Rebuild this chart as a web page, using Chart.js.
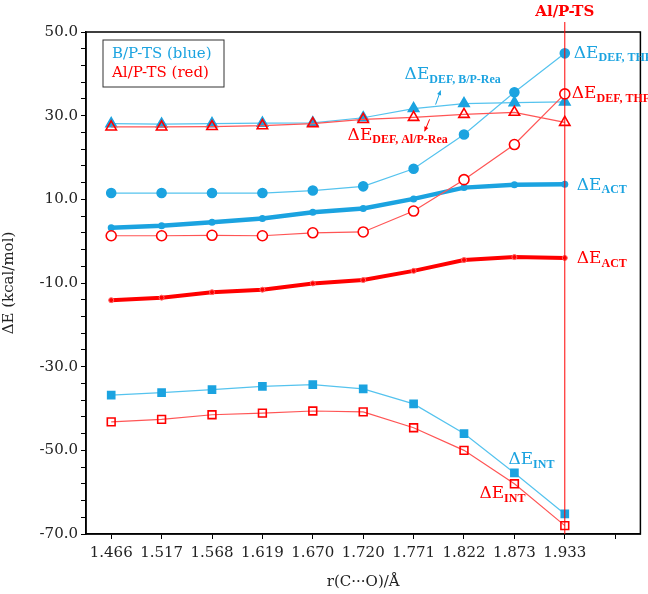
<!DOCTYPE html>
<html>
<head>
<meta charset="utf-8">
<script src="https://cdn.jsdelivr.net/npm/chart.js@4.4.1/dist/chart.umd.min.js"></script>
<style>
  body { margin: 0; background: #fff; }
</style>
</head>
<body>
<canvas id="chart" width="648" height="594"></canvas>
<script>
// r(C...O) distances, last slot is an empty category on the axis
const distances = ["1.466", "1.517", "1.568", "1.619", "1.670", "1.720", "1.771", "1.822", "1.873", "1.933", ""];

// B/P-TS (blue)
const defThfB = [11.5, 11.5, 11.5, 11.5, 12.1, 13.1, 17.3, 25.5, 35.6, 44.9];
const defReaB = [28.1, 28.0, 28.1, 28.2, 28.3, 29.5, 31.7, 32.9, 33.1, 33.3];
const actB    = [3.2, 3.7, 4.5, 5.4, 6.9, 7.8, 10.1, 12.8, 13.5, 13.6];
const intB    = [-36.8, -36.2, -35.5, -34.7, -34.3, -35.3, -38.9, -46.0, -55.4, -65.2];

// Al/P-TS (red)
const defThfAl = [1.3, 1.3, 1.4, 1.3, 2.0, 2.2, 7.2, 14.7, 23.1, 35.2];
const defReaAl = [27.3, 27.3, 27.4, 27.6, 28.1, 29.1, 29.6, 30.3, 30.8, 28.4];
const actAl    = [-14.1, -13.5, -12.2, -11.6, -10.1, -9.3, -7.1, -4.5, -3.8, -4.0];
const intAl    = [-43.2, -42.6, -41.5, -41.1, -40.6, -40.8, -44.6, -50.0, -58.0, -68.0];

const yMin = -70, yMax = 50, yMinor = 4, yMajor = 20;
const tsIndex = 9; // Al/P-TS position

const BLUE = "#1BA3E0";
const BLUE_LINE = "#55C3EE";
const RED = "#FF0000";
const RED_LINE = "#FF5555";
const SERIF = "'DejaVu Serif', serif";
const NARROW = "'Liberation Serif', serif";

function series(data, opts) {
  return Object.assign({
    data: data,
    borderWidth: 1.2,
    pointBorderWidth: 1.6,
    tension: 0,
  }, opts);
}

// ΔE labels with subscripts, anchored to data points
const labels = [
  { i: 9, v: defThfB[9], dx: 9, dy: 0, sub: "DEF, THF", color: BLUE },
  { i: 9, v: defThfAl[9], dx: 7, dy: 0, sub: "DEF, THF", color: RED },
  { i: 9, v: actB[9], dx: 12, dy: 1, sub: "ACT", color: BLUE },
  { i: 9, v: actAl[9], dx: 12, dy: 1, sub: "ACT", color: RED },
  { i: 8, v: intB[8], dx: -6, dy: -13, sub: "INT", color: BLUE },
  { i: 8, v: intAl[8], dx: -35, dy: 10, sub: "INT", color: RED },
  { i: 6, v: defReaB[6], dx: -9, dy: -34, sub: "DEF, B/P-Rea", color: BLUE,
    arrow: [22, -4, 27, -18] },
  { i: 6, v: defReaAl[6], dx: -66, dy: 18, sub: "DEF, Al/P-Rea", color: RED,
    arrow: [16, 2, 11, 14] },
];

function drawDE(ctx, x, y, sub, color) {
  ctx.fillStyle = color;
  ctx.textAlign = "left";
  ctx.textBaseline = "middle";
  ctx.font = "17px " + SERIF;
  ctx.fillText("ΔE", x, y);
  const w = ctx.measureText("ΔE").width;
  ctx.font = "bold 12px " + NARROW;
  ctx.fillText(sub, x + w, y + 5);
}

const extras = {
  id: "extras",
  afterDraw(chart) {
    const { ctx, chartArea: a, scales: { x, y } } = chart;
    ctx.save();
    // frame
    ctx.strokeStyle = "#000";
    ctx.lineWidth = 1.5;
    ctx.strokeRect(a.left, a.top, a.right - a.left, a.bottom - a.top);

    // Al/P-TS vertical line and title
    const tx = x.getPixelForValue(tsIndex);
    ctx.strokeStyle = RED;
    ctx.lineWidth = 1;
    ctx.beginPath();
    ctx.moveTo(tx, 22);
    ctx.lineTo(tx, a.bottom);
    ctx.stroke();
    ctx.fillStyle = RED;
    ctx.font = "bold 15px " + SERIF;
    ctx.textAlign = "center";
    ctx.textBaseline = "middle";
    ctx.fillText("Al/P-TS", tx, 12);

    // legend box
    ctx.strokeStyle = "#333";
    ctx.lineWidth = 1;
    ctx.strokeRect(a.left + 17, a.top + 8, 121, 47);
    ctx.font = "15px " + SERIF;
    ctx.textAlign = "left";
    ctx.fillStyle = BLUE;
    ctx.fillText("B/P-TS (blue)", a.left + 26, a.top + 22);
    ctx.fillStyle = RED;
    ctx.fillText("Al/P-TS (red)", a.left + 26, a.top + 41);

    // ΔE labels
    labels.forEach(l => {
      const px = x.getPixelForValue(l.i);
      const py = y.getPixelForValue(l.v);
      drawDE(ctx, px + l.dx, py + l.dy, l.sub, l.color);
      if (l.arrow) {
        const [x1, y1, x2, y2] = l.arrow;
        const sx = px + x1, sy = py + y1, ex = px + x2, ey = py + y2;
        ctx.strokeStyle = l.color;
        ctx.fillStyle = l.color;
        ctx.lineWidth = 1;
        ctx.beginPath();
        ctx.moveTo(sx, sy);
        ctx.lineTo(ex, ey);
        ctx.stroke();
        const ang = Math.atan2(ey - sy, ex - sx);
        ctx.beginPath();
        ctx.moveTo(ex, ey);
        ctx.lineTo(ex - 5 * Math.cos(ang - 0.45), ey - 5 * Math.sin(ang - 0.45));
        ctx.lineTo(ex - 5 * Math.cos(ang + 0.45), ey - 5 * Math.sin(ang + 0.45));
        ctx.closePath();
        ctx.fill();
      }
    });
    ctx.restore();
  }
};

new Chart(document.getElementById("chart"), {
  type: "line",
  data: {
    labels: distances,
    datasets: [
      // red first so it is drawn on top
      series(defReaAl, { borderColor: RED_LINE, pointStyle: "triangle", pointRadius: 6,
        pointBorderColor: RED, pointBackgroundColor: "rgba(255,255,255,0)" }),
      series(defThfAl, { borderColor: RED_LINE, pointStyle: "circle", pointRadius: 5,
        pointBorderColor: RED, pointBackgroundColor: "#fff" }),
      series(actAl, { borderColor: RED, borderWidth: 4, pointStyle: "circle", pointRadius: 2.5,
        pointBorderWidth: 1, pointBorderColor: "#FF6666", pointBackgroundColor: RED }),
      series(intAl, { borderColor: RED_LINE, pointStyle: "rect", pointRadius: 5.5,
        pointBorderColor: RED, pointBackgroundColor: "rgba(255,255,255,0)" }),
      series(defReaB, { borderColor: BLUE_LINE, pointStyle: "triangle", pointRadius: 6,
        pointBorderColor: BLUE, pointBackgroundColor: BLUE }),
      series(defThfB, { borderColor: BLUE_LINE, pointStyle: "circle", pointRadius: 4.5,
        pointBorderColor: BLUE, pointBackgroundColor: BLUE }),
      series(actB, { borderColor: BLUE, borderWidth: 4.5, pointStyle: "circle", pointRadius: 3.5,
        pointBorderWidth: 0, pointBackgroundColor: BLUE }),
      series(intB, { borderColor: BLUE_LINE, pointStyle: "rect", pointRadius: 5,
        pointBorderColor: BLUE, pointBackgroundColor: BLUE }),
    ],
  },
  options: {
    responsive: false,
    animation: false,
    layout: { padding: { top: 32, right: 2, left: 0, bottom: 0 } },
    plugins: {
      legend: { display: false },
      tooltip: { enabled: false },
    },
    scales: {
      x: {
        type: "category",
        offset: true,
        afterFit: s => { s.height = 60; },
        border: { color: "#000", width: 1.5 },
        grid: { drawOnChartArea: false, offset: false, tickLength: 5, color: "#000" },
        ticks: { font: { family: SERIF, size: 15 }, color: "#222", padding: 5, autoSkip: false, maxRotation: 0 },
        title: {
          display: true,
          text: "r(C···O)/Å",
          font: { family: SERIF, size: 15 },
          color: "#222",
          padding: { top: 2, bottom: 3 },
        },
      },
      y: {
        min: yMin,
        max: yMax,
        afterFit: s => { s.width = 86; },
        border: { color: "#000", width: 1.5 },
        grid: { drawOnChartArea: false, tickLength: 5, color: "#000" },
        ticks: {
          stepSize: yMinor,
          maxTicksLimit: 40,
          autoSkip: false,
          font: { family: SERIF, size: 15 },
          color: "#222",
          padding: 3,
          callback: v => ((v - yMin) % yMajor === 0 ? v.toFixed(1) : ""),
        },
        title: {
          display: true,
          text: "ΔE (kcal/mol)",
          font: { family: SERIF, size: 15 },
          color: "#222",
          padding: { top: 0, bottom: 2 },
        },
      },
    },
  },
  plugins: [extras],
});
</script>
</body>
</html>
